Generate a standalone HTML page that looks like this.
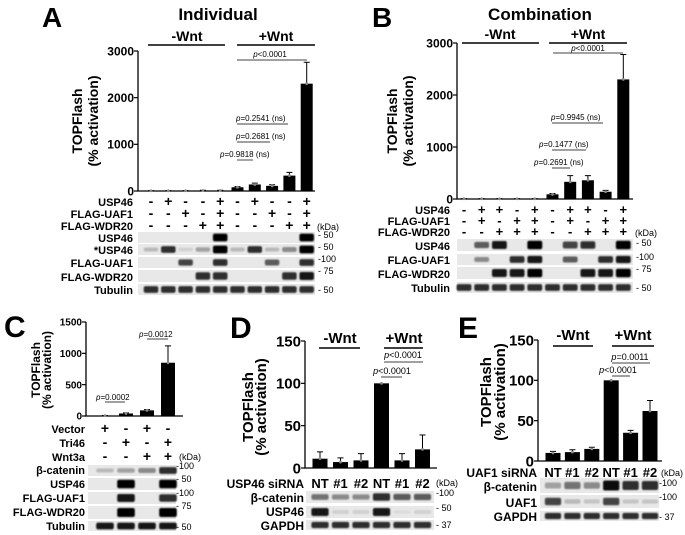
<!DOCTYPE html>
<html><head><meta charset="utf-8">
<style>
html,body{margin:0;padding:0;background:#fff;}
svg{display:block;font-family:"Liberation Sans",Arial,sans-serif;font-weight:bold;}
.n{font-weight:normal}
</style></head>
<body>
<svg id="fig" width="685" height="535" viewBox="0 0 685 535">
<defs><filter id="bl" x="-20%" y="-50%" width="140%" height="200%"><feGaussianBlur stdDeviation="0.9"/></filter></defs>
<g id="gA">
<text x="42" y="27" font-size="28">A</text>
<text x="218" y="20" font-size="17" text-anchor="middle">Individual</text>
<text x="187" y="41" font-size="14" text-anchor="middle">-Wnt</text>
<line x1="148" y1="45" x2="225" y2="45" stroke="#000" stroke-width="1.5"/>
<text x="276" y="41" font-size="14" text-anchor="middle">+Wnt</text>
<line x1="237" y1="45" x2="315" y2="45" stroke="#000" stroke-width="1.5"/>
<text x="270" y="57" font-size="8" text-anchor="middle" class="n"><tspan font-style="italic">p</tspan>&lt;0.0001</text>
<line x1="237" y1="60" x2="307" y2="60" stroke="#000" stroke-width="0.7"/>
<text x="236" y="121" font-size="8" class="n"><tspan font-style="italic">p</tspan>=0.2541 (ns)</text>
<line x1="237" y1="124" x2="288" y2="124" stroke="#000" stroke-width="0.7"/>
<text x="236" y="139" font-size="8" class="n"><tspan font-style="italic">p</tspan>=0.2681 (ns)</text>
<line x1="237" y1="142" x2="270" y2="142" stroke="#000" stroke-width="0.7"/>
<text x="220" y="157" font-size="8" class="n"><tspan font-style="italic">p</tspan>=0.9818 (ns)</text>
<line x1="237" y1="160" x2="253" y2="160" stroke="#000" stroke-width="0.7"/>
<text transform="translate(82,121) rotate(-90)" font-size="14" text-anchor="middle">TOPFlash</text>
<text transform="translate(98,121) rotate(-90)" font-size="14" text-anchor="middle">(% activation)</text>
<g font-size="11" text-anchor="end">
<text x="133" y="206">USP46</text>
<text x="133" y="218">FLAG-UAF1</text>
<text x="133" y="230">FLAG-WDR20</text>
<text x="133" y="242">USP46</text>
<text x="133" y="254">*USP46</text>
<text x="133" y="267">FLAG-UAF1</text>
<text x="133" y="281">FLAG-WDR20</text>
<text x="133" y="294">Tubulin</text>
</g>
<g font-size="9" class="n">
<text x="317" y="230">(kDa)</text>
<text x="318" y="238">- 50</text><text x="318" y="250">- 50</text><text x="318" y="262">-100</text><text x="318" y="274">- 75</text><text x="318" y="293">- 50</text>
</g>
</g>

<g id="gB">
<text x="372" y="27" font-size="28">B</text>
<text x="540" y="20" font-size="17" text-anchor="middle">Combination</text>
<text x="500" y="39" font-size="14" text-anchor="middle">-Wnt</text>
<line x1="462" y1="43" x2="539" y2="43" stroke="#000" stroke-width="1.5"/>
<text x="588" y="39" font-size="14" text-anchor="middle">+Wnt</text>
<line x1="549" y1="43" x2="627" y2="43" stroke="#000" stroke-width="1.5"/>
<text x="588" y="51" font-size="8" text-anchor="middle" class="n"><tspan font-style="italic">p</tspan>&lt;0.0001</text>
<line x1="553" y1="53" x2="623" y2="53" stroke="#000" stroke-width="0.7"/>
<text x="551" y="120" font-size="8" class="n"><tspan font-style="italic">p</tspan>=0.9945 (ns)</text>
<line x1="552" y1="123" x2="603" y2="123" stroke="#000" stroke-width="0.7"/>
<text x="539" y="147" font-size="8" class="n"><tspan font-style="italic">p</tspan>=0.1477 (ns)</text>
<line x1="552" y1="150" x2="586" y2="150" stroke="#000" stroke-width="0.7"/>
<text x="534" y="165" font-size="8" class="n"><tspan font-style="italic">p</tspan>=0.2691 (ns)</text>
<line x1="552" y1="168" x2="570" y2="168" stroke="#000" stroke-width="0.7"/>
<text transform="translate(397,121) rotate(-90)" font-size="14" text-anchor="middle">TOPFlash</text>
<text transform="translate(413,121) rotate(-90)" font-size="14" text-anchor="middle">(% activation)</text>
<g font-size="11" text-anchor="end">
<text x="450" y="214">USP46</text><text x="450" y="225">FLAG-UAF1</text><text x="450" y="236">FLAG-WDR20</text>
<text x="450" y="250">USP46</text><text x="450" y="264">FLAG-UAF1</text><text x="450" y="278">FLAG-WDR20</text><text x="450" y="292">Tubulin</text>
</g>
<g font-size="9" class="n">
<text x="635" y="236">(kDa)</text>
<text x="636" y="246">- 50</text><text x="636" y="260">-100</text><text x="636" y="272">- 75</text><text x="636" y="291">- 50</text>
</g>
</g>

<g id="gC">
<text x="4" y="337" font-size="30">C</text>
<text x="139" y="337" font-size="8" class="n"><tspan font-style="italic">p</tspan>=0.0012</text>
<line x1="147" y1="339" x2="168" y2="339" stroke="#000" stroke-width="0.7"/>
<text x="96" y="400" font-size="8" class="n"><tspan font-style="italic">p</tspan>=0.0002</text>
<line x1="105" y1="402" x2="125" y2="402" stroke="#000" stroke-width="0.7"/>
<text transform="translate(40,370) rotate(-90)" font-size="12" text-anchor="middle">TOPFlash</text>
<text transform="translate(51,370) rotate(-90)" font-size="12" text-anchor="middle">(% activation)</text>
<g font-size="11" text-anchor="end">
<text x="85" y="433">Vector</text><text x="85" y="447">Tri46</text><text x="85" y="461">Wnt3a</text>
<text x="85" y="474">β-catenin</text><text x="85" y="488">USP46</text><text x="85" y="502">FLAG-UAF1</text><text x="85" y="516">FLAG-WDR20</text><text x="85" y="530">Tubulin</text>
</g>
<g font-size="9" class="n">
<text x="179" y="460">(kDa)</text>
<text x="176" y="469">-100</text><text x="176" y="482">- 50</text><text x="176" y="496">-100</text><text x="176" y="509">- 75</text><text x="176" y="530">- 50</text>
</g>
</g>

<g id="gD">
<text x="230" y="338" font-size="30">D</text>
<text x="340" y="343" font-size="15" text-anchor="middle">-Wnt</text>
<line x1="319" y1="348" x2="360" y2="348" stroke="#000" stroke-width="1.5"/>
<text x="404" y="343" font-size="15" text-anchor="middle">+Wnt</text>
<line x1="384" y1="348" x2="423" y2="348" stroke="#000" stroke-width="1.5"/>
<text x="403" y="358" font-size="9" text-anchor="middle" class="n"><tspan font-style="italic">p</tspan>&lt;0.0001</text>
<line x1="384" y1="362" x2="423" y2="362" stroke="#000" stroke-width="0.7"/>
<text x="392" y="374" font-size="9" text-anchor="middle" class="n"><tspan font-style="italic">p</tspan>&lt;0.0001</text>
<line x1="381" y1="377" x2="402" y2="377" stroke="#000" stroke-width="0.7"/>
<text transform="translate(253,407) rotate(-90)" font-size="15" text-anchor="middle">TOPFlash</text>
<text transform="translate(266,407) rotate(-90)" font-size="15" text-anchor="middle">(% activation)</text>
<g font-size="12" text-anchor="end">
<text x="304" y="488">USP46 siRNA</text><text x="304" y="502">β-catenin</text><text x="304" y="516">USP46</text><text x="304" y="530">GAPDH</text>
</g>
<g font-size="9" class="n">
<text x="436" y="486">(kDa)</text>
<text x="436" y="496">-100</text><text x="436" y="511">- 50</text><text x="436" y="528">- 37</text>
</g>
</g>

<g id="gE">
<text x="458" y="338" font-size="30">E</text>
<text x="573" y="340" font-size="15" text-anchor="middle">-Wnt</text>
<line x1="553" y1="346" x2="593" y2="346" stroke="#000" stroke-width="1.5"/>
<text x="633" y="340" font-size="15" text-anchor="middle">+Wnt</text>
<line x1="612" y1="346" x2="654" y2="346" stroke="#000" stroke-width="1.5"/>
<text x="630" y="360" font-size="9" text-anchor="middle" class="n"><tspan font-style="italic">p</tspan>=0.0011</text>
<line x1="612" y1="363" x2="650" y2="363" stroke="#000" stroke-width="0.7"/>
<text x="618" y="373" font-size="9" text-anchor="middle" class="n"><tspan font-style="italic">p</tspan>&lt;0.0001</text>
<line x1="612" y1="376" x2="630" y2="376" stroke="#000" stroke-width="0.7"/>
<text transform="translate(491,392) rotate(-90)" font-size="15" text-anchor="middle">TOPFlash</text>
<text transform="translate(505,392) rotate(-90)" font-size="15" text-anchor="middle">(% activation)</text>
<g font-size="12" text-anchor="end">
<text x="537" y="477">UAF1 siRNA</text><text x="537" y="491">β-catenin</text><text x="537" y="507">UAF1</text><text x="537" y="521">GAPDH</text>
</g>
<g font-size="9" class="n">
<text x="661" y="476">(kDa)</text>
<text x="659" y="486">-100</text><text x="659" y="500">-100</text><text x="659" y="520">- 37</text>
</g>
</g>
<g id="marks"></g>
</svg>
<script>
// ---- data ----
const aValues=[5,5,5,10,10,80,140,110,330,2300];
const aErrors=[3,3,3,5,5,15,30,25,70,460];
const aTicks=[0,1000,2000,3000];
const bValues=[5,5,5,5,5,90,330,360,140,2300];
const bErrors=[3,3,3,3,3,15,120,90,25,480];
const bTicks=[0,1000,2000,3000];
const cValues=[5,40,90,850];
const cErrors=[3,10,12,270];
const cTicks=[0,500,1000,1500];
const dValues=[11,7,9,100,9,22];
const dErrors=[8,5,8,0,8,17];
const dTicks=[0,50,100,150];
const eValues=[10,11,15,100,35,62];
const eErrors=[2,3,2,0,3,13];
const eTicks=[0,50,100,150];
const aRows=[["-","+","-","-","+","-","+","-","-","+"],["-","-","+","-","+","-","-","+","-","+"],["-","-","-","+","+","-","-","-","+","+"]];
const bRows=[["-","+","+","-","+","-","+","+","-","+"],["-","+","-","+","+","-","+","-","+","+"],["-","-","+","+","+","-","-","+","+","+"]];
const cRows=[["+","-","+","-"],["-","+","-","+"],["-","-","+","+"]];
const dLabels=["NT","#1","#2","NT","#1","#2"];
const eLabels=["NT","#1","#2","NT","#1","#2"];
const aBlots=[[0,0,0,0,1,0,0,0,0,1],[.2,.8,.1,.3,1,.2,.8,.2,.4,1],[0,0,.7,0,.8,0,0,.6,0,.8],[0,0,0,.8,.8,0,0,0,.8,.9],[.8,.8,.8,.8,.8,.8,.8,.8,.8,.8]];
const bBlots=[[0,.6,.9,0,1,0,.7,.8,0,1],[0,.4,0,.8,.9,0,.6,0,.8,.9],[0,0,.9,.9,1,0,0,.9,.9,1],[.8,.8,.8,.8,.8,.8,.8,.8,.8,.8]];
const cBlots=[[.2,.3,.4,.8],[0,1,0,1],[0,.9,0,.8],[0,1,0,1],[.9,.9,.9,.9]];
const dBlots=[[.5,.4,.4,.8,.6,.6],[.9,.1,.1,.9,.05,.1],[.8,.8,.8,.8,.8,.8]];
const eBlots=[[.3,.5,.4,.95,.8,.8],[.7,.2,.15,.7,.15,.15],[.8,.8,.8,.8,.8,.8]];

const NS="http://www.w3.org/2000/svg";
const root=document.getElementById('marks');
function mk(tag,parent){const e=document.createElementNS(NS,tag);parent.appendChild(e);return e;}
function set(e,o){for(const k in o)e.setAttribute(k,o[k]);}

function chart(p){
  const g=mk('g',root);
  
  
  const max=p.ticks[p.ticks.length-1];
  const y=v=>p.y0-(v/max)*(p.y0-p.yTop);
  const x=i=>p.start+i*p.step;
  const ax=mk('path',g);
  set(ax,{d:`M${p.x0},${p.yTop}V${p.y0}H${p.x1}`,stroke:'#000','stroke-width':1.3,fill:'none'});
  
  
  p.ticks.forEach(t=>{
    const l=mk('line',g);set(l,{x1:p.x0-4,x2:p.x0,y1:y(t),y2:y(t),stroke:'#000','stroke-width':1.2});
    const tx=mk('text',g);set(tx,{x:p.x0-4,y:y(t)+p.fs*0.36,'font-size':p.fs,'text-anchor':'end'});
    tx.textContent=t;
    
    
  });
  p.values.forEach((v,i)=>{
    const r=mk('rect',g);set(r,{x:x(i)-p.bw/2,y:y(v),width:p.bw,height:p.y0-y(v),fill:'#000'});
    
    
    const e=p.errors[i];
    if(e>0){
      const l=mk('path',g);set(l,{d:`M${x(i)},${y(v)}V${y(v+e)}M${x(i)-3},${y(v+e)}H${x(i)+3}`,stroke:'#000','stroke-width':1});
      
      
    }
    const d=mk('circle',g);set(d,{cx:x(i),cy:y(v),r:1.4,fill:'#888'});
  });
  if(p.rows){p.rows.forEach((row,ri)=>row.forEach((s,i)=>{
    const t=mk('text',g);set(t,{x:x(i),y:p.rowY+ri*p.rowH,'font-size':p.rowFs,'text-anchor':'middle'});
    t.textContent=s;
  }));}
  if(p.labels){p.labels.forEach((s,i)=>{
    const t=mk('text',g);set(t,{x:x(i),y:p.rowY,'font-size':p.rowFs,'text-anchor':'middle'});
    t.textContent=s;
  });}
  const bx0=p.bx0||p.x0, bx1=p.bx1||p.x1;
  p.blots.forEach((row,ri)=>{
    const [by,bh]=p.blotY[ri];
    const bg=mk('rect',g);set(bg,{x:bx0,y:by,width:bx1-bx0,height:bh-1,fill:'#e8e8e8'});
    
    
    row.forEach((v,i)=>{
      if(v<=0)return;
      const h=Math.max(2,bh*(0.25+0.4*v));
      const b=mk('rect',g);set(b,{x:x(i)-p.step*0.42,y:by+(bh-1-h)/2,width:p.step*0.84,height:h,rx:2,fill:'#000',opacity:v,filter:'url(#bl)'});
      
      
    });
  });
}
chart({id:'panel-a',values:aValues,errors:aErrors,ticks:aTicks,x0:138,x1:315,y0:191,yTop:51,start:151,step:17.3,bw:12,fs:12,
  rows:aRows,rowY:206,rowH:12,rowFs:14,blots:aBlots,blotY:[[232,12],[244,12],[257,12],[270,13],[284,12]]});
chart({id:'panel-b',values:bValues,errors:bErrors,ticks:bTicks,x0:457,x1:633,y0:199,yTop:43,start:464,step:17.7,bw:12,fs:12,
  rows:bRows,rowY:214,rowH:11,rowFs:13,blots:bBlots,blotY:[[239,13],[254,12],[267,13],[282,12]]});
chart({id:'panel-c',values:cValues,errors:cErrors,ticks:cTicks,x0:86,x1:183,y0:416,yTop:322,start:105,step:21,bw:14,fs:10,
  rows:cRows,rowY:433,rowH:14,rowFs:14,blots:cBlots,blotY:[[465,12],[478,13],[492,13],[506,14],[521,11]],bx0:88,bx1:176});
chart({id:'panel-d',values:dValues,errors:dErrors,ticks:dTicks,x0:305,x1:437,y0:468,yTop:341,start:320,step:20.5,bw:15,fs:15,
  labels:dLabels,rowY:488,rowFs:13,blots:dBlots,blotY:[[491,13],[506,13],[520,11]],bx0:306,bx1:434});
chart({id:'panel-e',values:eValues,errors:eErrors,ticks:eTicks,x0:538,x1:662,y0:461,yTop:340,start:553,step:19.4,bw:15,fs:15,
  labels:eLabels,rowY:477,rowFs:13,blots:eBlots,blotY:[[478,16],[495,14],[511,11]],bx0:540,bx1:659});
</script>
</body></html>
